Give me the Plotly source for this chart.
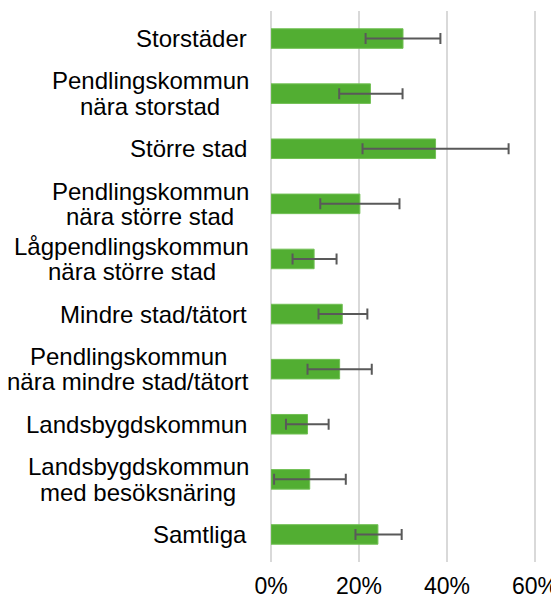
import plotly.graph_objects as go

categories = [
    "Storstäder",
    "Pendlingskommun<br>nära storstad",
    "Större stad",
    "Pendlingskommun<br>nära större stad",
    "Lågpendlingskommun<br>nära större stad",
    "Mindre stad/tätort",
    "Pendlingskommun<br>nära mindre stad/tätort",
    "Landsbygdskommun",
    "Landsbygdskommun<br>med besöksnäring",
    "Samtliga",
]
values = [0.300, 0.226, 0.374, 0.202, 0.098, 0.162, 0.156, 0.083, 0.088, 0.243]
lower = [0.215, 0.155, 0.208, 0.112, 0.049, 0.108, 0.083, 0.034, 0.007, 0.192]
upper = [0.385, 0.299, 0.540, 0.292, 0.149, 0.219, 0.229, 0.131, 0.170, 0.297]
x_tickvals = [0, 0.2, 0.4, 0.6]
x_ticktext = ["0%", "20%", "40%", "60%"]

err_plus = [u - v for u, v in zip(upper, values)]
err_minus = [v - l for v, l in zip(values, lower)]

FONT = "Liberation Sans, Arial, sans-serif"
FS = 24
# Arial / Liberation Sans advance widths (per 1000 em) for layout of centred label lines
W = {c: 556 for c in "abdeghnopquäöå"}
W.update({"c": 500, "f": 278, "i": 222, "j": 222, "k": 500, "l": 222, "m": 833,
          "r": 333, "s": 500, "t": 278, "v": 500, "w": 722, "x": 500, "y": 500,
          "z": 500, " ": 278, "/": 278, "P": 667, "L": 556, "S": 667, "M": 833})


def text_w(s):
    return sum(W.get(ch, 556) for ch in s) * FS / 1000.0


fig = go.Figure()
fig.add_trace(go.Bar(
    x=values,
    y=categories,
    orientation="h",
    width=0.355,
    marker=dict(color="#52ae32", line=dict(color="#72c055", width=1)),
    error_x=dict(
        type="data",
        symmetric=False,
        array=err_plus,
        arrayminus=err_minus,
        color="#595959",
        thickness=2,
        width=5.5,
    ),
    hoverinfo="skip",
))

RIGHT = -22
for cat in categories:
    lines = cat.split("<br>")
    if len(lines) == 1:
        fig.add_annotation(
            x=0, xref="paper", y=cat, yref="y",
            text=cat, showarrow=False,
            xanchor="right", yanchor="middle",
            xshift=RIGHT,
            font=dict(family=FONT, size=FS, color="#000000"),
        )
    else:
        block = max(text_w(l) for l in lines)
        n = len(lines)
        for i, l in enumerate(lines):
            fig.add_annotation(
                x=0, xref="paper", y=cat, yref="y",
                text=l, showarrow=False,
                xanchor="center", yanchor="middle",
                xshift=RIGHT - block / 2.0,
                yshift=((n - 1) / 2.0 - i) * 25.5,
                font=dict(family=FONT, size=FS, color="#000000"),
            )

fig.update_layout(
    width=551,
    height=598,
    margin=dict(l=263, r=20, t=3, b=44),
    paper_bgcolor="white",
    plot_bgcolor="white",
    font=dict(family=FONT, size=FS, color="#000000"),
    showlegend=False,
)
fig.update_xaxes(
    range=[0, 0.6 * 268 / 264],
    tickvals=x_tickvals,
    ticktext=x_ticktext,
    tickfont=dict(size=23),
    showgrid=True,
    gridcolor="#d9d9d9",
    gridwidth=2,
    zeroline=True,
    zerolinecolor="#d9d9d9",
    zerolinewidth=2,
    showline=False,
    ticks="",
    ticklabelstandoff=8,
    automargin=False,
)
fig.update_yaxes(
    autorange="reversed",
    showgrid=False,
    showline=False,
    ticks="",
    showticklabels=False,
    automargin=False,
)

fig.write_html("out.html")
